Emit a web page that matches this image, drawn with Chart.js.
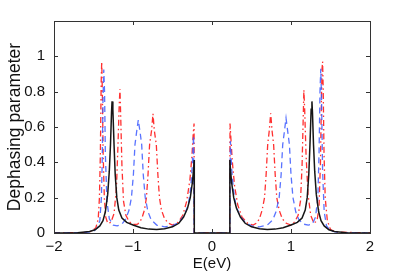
<!DOCTYPE html>
<html>
<head>
<meta charset="utf-8">
<script src="https://cdn.jsdelivr.net/npm/chart.js@4.4.0/dist/chart.umd.min.js"></script>
<style>
  body { margin: 0; background: #fff; }
  #wrap { width: 409px; height: 273px; }
</style>
</head>
<body>
<div id="wrap"><canvas id="myChart"></canvas></div>
<script>
// values
const xTicks = [-2, -1, 0, 1, 2];
const yTicks = [0, 0.2, 0.4, 0.6, 0.8, 1];

const blackX = [-2, -1.7, -1.55, -1.48, -1.42, -1.38, -1.35, -1.32, -1.30, -1.285, -1.272, -1.265, -1.255, -1.24, -1.225, -1.205, -1.18, -1.14, -1.08, -1.0, -0.9, -0.8, -0.7, -0.6, -0.5, -0.42, -0.36, -0.31, -0.275, -0.25, -0.235, -0.226, -0.224,
    0.224, 0.226, 0.235, 0.25, 0.275, 0.31, 0.36, 0.42, 0.5, 0.6, 0.7, 0.8, 0.9, 1.0, 1.08, 1.14, 1.18, 1.205, 1.225, 1.24, 1.255, 1.265, 1.272, 1.285, 1.30, 1.32, 1.35, 1.38, 1.42, 1.48, 1.55, 1.7, 2];
const blackY = [0, 0.002, 0.008, 0.018, 0.04, 0.07, 0.12, 0.22, 0.35, 0.5, 0.68, 0.745, 0.7, 0.5, 0.33, 0.2, 0.13, 0.085, 0.06, 0.045, 0.03, 0.022, 0.02, 0.024, 0.035, 0.055, 0.09, 0.14, 0.2, 0.28, 0.35, 0.413, 0,
    0, 0.413, 0.35, 0.28, 0.2, 0.14, 0.09, 0.055, 0.035, 0.024, 0.02, 0.022, 0.03, 0.045, 0.06, 0.085, 0.13, 0.2, 0.33, 0.5, 0.7, 0.745, 0.68, 0.5, 0.35, 0.22, 0.12, 0.07, 0.04, 0.018, 0.008, 0.002, 0];

const blueX = [-2, -1.6, -1.5, -1.45, -1.42, -1.40, -1.39, -1.38, -1.37, -1.36, -1.35, -1.33, -1.30, -1.25, -1.2, -1.14, -1.09, -1.05, -1.02, -0.995, -0.975, -0.955, -0.933, -0.91, -0.89, -0.87, -0.845, -0.81, -0.77, -0.7, -0.6, -0.5, -0.42, -0.35, -0.3, -0.27, -0.25, -0.233, -0.226,
    0.226, 0.233, 0.25, 0.27, 0.3, 0.35, 0.42, 0.5, 0.6, 0.7, 0.77, 0.81, 0.85, 0.875, 0.895, 0.915, 0.937, 0.96, 0.98, 1.0, 1.025, 1.06, 1.1, 1.16, 1.22, 1.27, 1.31, 1.34, 1.355, 1.367, 1.377, 1.387, 1.40, 1.42, 1.45, 1.5, 1.6, 2];
const blueY = [0, 0.003, 0.01, 0.03, 0.07, 0.2, 0.4, 0.75, 0.925, 0.8, 0.45, 0.18, 0.08, 0.045, 0.04, 0.05, 0.08, 0.13, 0.2, 0.33, 0.5, 0.57, 0.64, 0.57, 0.5, 0.33, 0.2, 0.12, 0.075, 0.045, 0.035, 0.04, 0.06, 0.1, 0.16, 0.25, 0.38, 0.55, 0,
    0, 0.52, 0.36, 0.25, 0.16, 0.1, 0.06, 0.04, 0.035, 0.045, 0.075, 0.12, 0.2, 0.33, 0.5, 0.57, 0.65, 0.57, 0.5, 0.33, 0.2, 0.12, 0.075, 0.05, 0.045, 0.05, 0.09, 0.2, 0.45, 0.8, 0.93, 0.75, 0.35, 0.12, 0.04, 0.012, 0.003, 0];

const redX = [-2, -1.6, -1.52, -1.47, -1.44, -1.425, -1.413, -1.403, -1.396, -1.388, -1.378, -1.363, -1.345, -1.32, -1.28, -1.24, -1.21, -1.19, -1.175, -1.165, -1.155, -1.14, -1.12, -1.09, -1.05, -1.0, -0.94, -0.89, -0.855, -0.83, -0.81, -0.79, -0.765, -0.747, -0.73, -0.705, -0.685, -0.665, -0.64, -0.6, -0.55, -0.5, -0.43, -0.37, -0.32, -0.28, -0.255, -0.238, -0.227, -0.225,
    0.225, 0.228, 0.24, 0.258, 0.285, 0.325, 0.38, 0.45, 0.52, 0.56, 0.6, 0.635, 0.665, 0.685, 0.705, 0.725, 0.743, 0.76, 0.78, 0.8, 0.82, 0.85, 0.89, 0.94, 1.0, 1.05, 1.09, 1.12, 1.14, 1.153, 1.163, 1.173, 1.19, 1.215, 1.25, 1.29, 1.33, 1.355, 1.373, 1.385, 1.393, 1.4, 1.408, 1.418, 1.433, 1.46, 1.5, 1.57, 2];
const redY = [0, 0.003, 0.01, 0.03, 0.08, 0.2, 0.45, 0.85, 0.97, 0.8, 0.45, 0.2, 0.09, 0.055, 0.06, 0.11, 0.25, 0.5, 0.72, 0.815, 0.65, 0.38, 0.18, 0.1, 0.065, 0.048, 0.05, 0.08, 0.13, 0.2, 0.33, 0.5, 0.58, 0.675, 0.58, 0.5, 0.33, 0.2, 0.13, 0.08, 0.055, 0.045, 0.06, 0.1, 0.18, 0.3, 0.43, 0.56, 0.62, 0,
    0, 0.62, 0.53, 0.4, 0.27, 0.16, 0.09, 0.055, 0.045, 0.055, 0.08, 0.13, 0.2, 0.33, 0.5, 0.58, 0.677, 0.58, 0.5, 0.33, 0.2, 0.13, 0.08, 0.055, 0.045, 0.065, 0.1, 0.18, 0.38, 0.62, 0.81, 0.7, 0.45, 0.22, 0.1, 0.055, 0.07, 0.15, 0.4, 0.75, 0.93, 0.97, 0.8, 0.45, 0.2, 0.07, 0.02, 0.005, 0];

function toPoints(xs, ys) {
    return xs.map((x, i) => ({ x: x, y: ys[i] }));
}

const sans = "'Liberation Sans', Arial, sans-serif";

// MATLAB style frame with inward ticks on all four sides
const framePlugin = {
    id: 'frame',
    afterDraw(chart) {
        const ctx = chart.ctx;
        const a = chart.chartArea;
        const xs = chart.scales.x, ys = chart.scales.y;
        ctx.save();
        ctx.strokeStyle = '#333';
        ctx.lineWidth = 1;
        ctx.beginPath();
        xTicks.forEach(v => {
            let px = Math.round(xs.getPixelForValue(v)) + 0.5;
            ctx.moveTo(px, a.bottom); ctx.lineTo(px, a.bottom - 4);
            ctx.moveTo(px, a.top); ctx.lineTo(px, a.top + 4);
        });
        yTicks.forEach(v => {
            let py = Math.round(ys.getPixelForValue(v)) + 0.5;
            ctx.moveTo(a.left, py); ctx.lineTo(a.left + 4, py);
            ctx.moveTo(a.right, py); ctx.lineTo(a.right - 4, py);
        });
        ctx.stroke();
        ctx.strokeRect(Math.round(a.left) + 0.5, Math.round(a.top) + 0.5, Math.round(a.right - a.left), Math.round(a.bottom - a.top));
        ctx.restore();
    }
};

let ctx = document.getElementById('myChart').getContext('2d');
let myChart = new Chart(ctx, {
    type: 'line',
    data: {
        datasets: [{
            data: toPoints(blackX, blackY),
            borderColor: '#161616',
            borderWidth: 1.5,
            pointRadius: 0,
            tension: 0
        }, {
            data: toPoints(blueX, blueY),
            borderColor: 'rgba(60,90,255,0.85)',
            borderWidth: 1.3,
            borderDash: [6, 4],
            pointRadius: 0,
            tension: 0
        }, {
            data: toPoints(redX, redY),
            borderColor: 'rgba(255,25,25,0.9)',
            borderWidth: 1.3,
            borderDash: [6, 3, 1.5, 3],
            pointRadius: 0,
            tension: 0
        }]
    },
    options: {
        animation: false,
        responsive: true,
        maintainAspectRatio: false,
        layout: { padding: { top: 21, right: 39, left: 0, bottom: 0 } },
        plugins: { legend: { display: false }, tooltip: { enabled: false } },
        scales: {
            x: {
                type: 'linear',
                min: -2,
                max: 2,
                afterFit: s => { s.height = 40; },
                afterBuildTicks: s => { s.ticks = xTicks.map(v => ({ value: v })); },
                grid: { display: false, drawTicks: false },
                border: { display: false },
                ticks: {
                    padding: 5,
                    color: '#111',
                    font: { family: sans, size: 15 },
                    callback: v => String(v).replace('-', '\u2212')
                },
                title: {
                    display: true,
                    text: 'E(eV)',
                    color: '#111',
                    padding: { top: 0, bottom: 0 },
                    font: { family: sans, size: 15 }
                }
            },
            y: {
                min: 0,
                max: 1.2,
                afterFit: s => { s.width = 54; },
                afterBuildTicks: s => { s.ticks = yTicks.map(v => ({ value: v })); },
                grid: { display: false, drawTicks: false },
                border: { display: false },
                ticks: {
                    padding: 9,
                    color: '#111',
                    font: { family: sans, size: 15 },
                    callback: v => String(Math.round(v * 10) / 10)
                },
                title: {
                    display: true,
                    text: 'Dephasing parameter',
                    color: '#111',
                    padding: { top: 4.5, bottom: 0 },
                    font: { family: sans, size: 17.5 }
                }
            }
        }
    },
    plugins: [framePlugin]
});
</script>
</body>
</html>
